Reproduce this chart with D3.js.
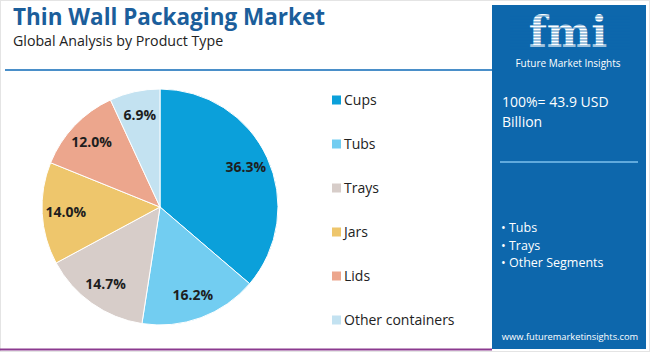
<!DOCTYPE html>
<html>
<head>
<meta charset="utf-8">
<script src="https://cdn.jsdelivr.net/npm/d3@7"></script>
<style>
  body { margin: 0; background: #fff; }
  svg { display: block; font-family: "Open Sans", "Noto Sans", sans-serif; }
</style>
</head>
<body>
<div class="chart"></div>
<script>
// Data
const segments = ["Cups", "Tubs", "Trays", "Jars", "Lids", "Other containers"]
const shares = [36.3, 16.2, 14.7, 14.0, 12.0, 6.9]
const segmentColors = ["#0ba0da", "#72cdf1", "#d7cdc9", "#eec66c", "#eca68d", "#c3e2f1"]
const panelBullets = ["Tubs", "Trays", "Other Segments"]
const totalLabel = ["100%= 43.9 USD", "Billion"]

let dims = {
    width: 650,
    height: 352,
    pie: { cx: 160, cy: 207, r: 118 }
}

const svg = d3.select(".chart")
    .append('svg')
    .attr('width', dims.width)
    .attr('height', dims.height)

// frame
svg.append('rect')
    .attr('x', 0.5).attr('y', 0.5)
    .attr('width', dims.width - 1).attr('height', dims.height - 1)
    .attr('fill', 'none').attr('stroke', '#e4e4e4')

// Title
svg.append('text')
    .attr('x', 13).attr('y', 25)
    .attr('font-size', '22.5px')
    .attr('font-weight', 'bold')
    .attr('fill', '#1b5e9b')
    .text('Thin Wall Packaging Market')

svg.append('text')
    .attr('x', 13).attr('y', 46)
    .attr('font-size', '14.2px')
    .attr('fill', '#222')
    .text('Global Analysis by Product Type')

svg.append('line')
    .attr('x1', 5).attr('x2', 492)
    .attr('y1', 70).attr('y2', 70)
    .attr('stroke', '#4a8fc9').attr('stroke-width', 2)

// bottom accent
svg.append('line')
    .attr('x1', 0).attr('x2', 492)
    .attr('y1', 349.5).attr('y2', 349.5)
    .attr('stroke', '#8b3a8f').attr('stroke-width', 2)

// Pie
const pie = d3.pie().sort(null).value(d => d)
const arcs = pie(shares)
const arc = d3.arc().innerRadius(0).outerRadius(dims.pie.r)
const labelArc = d3.arc().innerRadius(dims.pie.r * 0.8).outerRadius(dims.pie.r * 0.8)

const pieG = svg.append('g')
    .attr('transform', `translate(${dims.pie.cx},${dims.pie.cy})`)

pieG.selectAll('path')
    .data(arcs)
    .join('path')
    .attr('d', arc)
    .attr('fill', (d, i) => segmentColors[i])
    .attr('stroke', '#fff')
    .attr('stroke-width', 1)

pieG.selectAll('text')
    .data(arcs)
    .join('text')
    .attr('transform', d => `translate(${labelArc.centroid(d)})`)
    .attr('text-anchor', 'middle')
    .attr('dy', '0.35em')
    .attr('font-size', '14px')
    .attr('font-weight', 'bold')
    .attr('fill', '#1e1e1e')
    .text(d => d.data.toFixed(1) + '%')

// Legend
const legendY = d3.scalePoint()
    .domain(segments)
    .range([100, 320])

const legend = svg.append('g')
    .selectAll('g')
    .data(segments)
    .join('g')
    .attr('transform', d => `translate(332,${legendY(d)})`)

legend.append('rect')
    .attr('x', 0).attr('y', -4.5)
    .attr('width', 9).attr('height', 9)
    .attr('fill', (d, i) => segmentColors[i])

legend.append('text')
    .attr('x', 12).attr('dy', '0.35em')
    .attr('font-size', '14px')
    .attr('fill', '#222')
    .text(d => d)

// Right panel
const panel = svg.append('g')

panel.append('rect')
    .attr('x', 492).attr('y', 5)
    .attr('width', 154).attr('height', 344)
    .attr('fill', '#0d67ac')

// logo
const logo = panel.append('g')
logo.append('text')
    .attr('x', 568).attr('y', 47)
    .attr('text-anchor', 'middle')
    .attr('font-family', '"DejaVu Serif", serif')
    .attr('font-weight', 'bold')
    .attr('font-size', '42px')
    .attr('fill', '#fff')
    .text('fmi')
logo.selectAll('line')
    .data(d3.range(16, 50, 3))
    .join('line')
    .attr('x1', 510).attr('x2', 630)
    .attr('y1', d => d).attr('y2', d => d)
    .attr('stroke', '#0d67ac').attr('stroke-width', 0.8)
logo.append('text')
    .attr('x', 568).attr('y', 67)
    .attr('text-anchor', 'middle')
    .attr('font-size', '10px')
    .attr('fill', '#fff')
    .text('Future Market Insights')

panel.selectAll('.total')
    .data(totalLabel)
    .join('text')
    .attr('class', 'total')
    .attr('x', 502)
    .attr('y', (d, i) => 107 + i * 20)
    .attr('font-size', '14px')
    .attr('fill', '#fff')
    .text(d => d)

panel.append('line')
    .attr('x1', 500).attr('x2', 638)
    .attr('y1', 162).attr('y2', 162)
    .attr('stroke', '#7cc0ee').attr('stroke-width', 1.5)

panel.selectAll('.bullet')
    .data(panelBullets)
    .join('text')
    .attr('class', 'bullet')
    .attr('x', 501)
    .attr('y', (d, i) => 228 + i * 17.5)
    .attr('dy', '0.35em')
    .attr('font-size', '12.5px')
    .attr('fill', '#fff')
    .text(d => '\u2022 ' + d)

panel.append('text')
    .attr('x', 570).attr('y', 340)
    .attr('text-anchor', 'middle')
    .attr('font-size', '9.3px')
    .attr('fill', '#fff')
    .text('www.futuremarketinsights.com')
</script>
</body>
</html>
